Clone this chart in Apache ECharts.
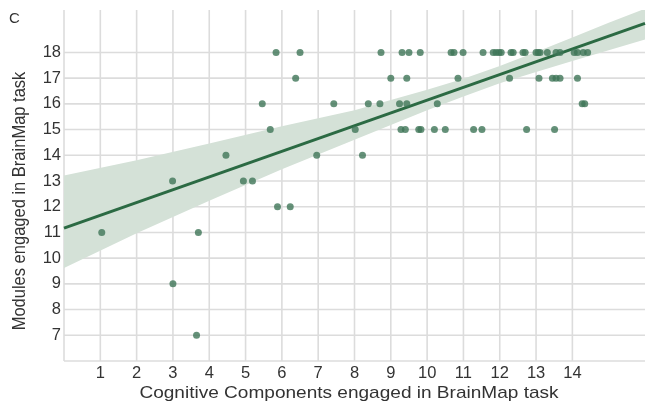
<!DOCTYPE html>
<html>
<head>
<meta charset="utf-8">
<script src="https://cdn.jsdelivr.net/npm/echarts@6/dist/echarts.min.js"></script>
<style>
html,body{margin:0;padding:0;background:#fff;}
#chart{width:650px;height:408px;}
</style>
</head>
<body>
<div id="chart"></div>
<script>
// ---- data ----
const xTicks = [0,1,2,3,4,5,6,7,8,9,10,11,12,13,14];
const xTickLabels = [1,2,3,4,5,6,7,8,9,10,11,12,13,14];
const yTicks = [6,7,8,9,10,11,12,13,14,15,16,17,18];
const yTickLabels = [7,8,9,10,11,12,13,14,15,16,17,18];

const row18 = [5.84,6.50,8.73,9.31,9.50,9.81,10.66,10.74,10.99,11.54,11.82,11.90,11.98,12.04,12.31,12.37,12.64,12.70,13.00,13.06,13.11,13.31,13.55,13.66,14.05,14.14,14.30,14.42];
const row17 = [6.38,9.00,9.44,10.85,12.27,13.08,13.45,13.55,13.66,14.14];
const row16 = [5.46,7.43,8.38,8.70,9.24,9.44,10.28,14.27,14.34];
const row15 = [5.68,8.02,9.28,9.40,9.77,9.83,10.20,10.50,11.28,11.51,12.74,13.51];
const row14 = [4.46,6.96,8.22];
const row13 = [2.99,4.94,5.19];
const row12 = [5.88,6.23];
const row11 = [1.04,3.70];
const row9  = [3.00];
const row7  = [3.65];

const fitX = [0, 16];
const fitY = [11.17, 19.13];

const bandX    = [0, 2, 4, 6, 8, 10, 11, 12, 13, 14, 15, 16];
const bandHigh = [13.21, 13.81, 14.46, 15.13, 15.75, 16.55, 16.98, 17.47, 18.02, 18.58, 19.15, 19.70];
const bandLow  = [9.62, 10.97, 12.23, 13.46, 14.60, 15.75, 16.29, 16.80, 17.24, 17.67, 18.08, 18.50];

// ---- build ----
const rows = [[18,row18],[17,row17],[16,row16],[15,row15],[14,row14],[13,row13],[12,row12],[11,row11],[9,row9],[7,row7]];
const points = [];
rows.forEach(([y, xs]) => xs.forEach(x => points.push([x, y])));

const X_MIN = 0, X_MAX = 16, Y_MIN = 6, Y_MAX = 19.65;
const gridColor = '#dcdcdc';
const textColor = '#333333';
const FONT = 'Liberation Sans, Arial, sans-serif';

function gridLineSeries(values, vertical) {
  return {
    type: 'custom', z: 1, silent: true,
    data: values.map(v => [v]),
    encode: vertical ? {x: 0} : {y: 0},
    renderItem: function(params, api) {
      const v = api.value(0);
      const p1 = vertical ? api.coord([v, Y_MIN]) : api.coord([X_MIN, v]);
      const p2 = vertical ? api.coord([v, Y_MAX]) : api.coord([X_MAX, v]);
      return {type: 'line', shape: {x1: p1[0], y1: p1[1], x2: p2[0], y2: p2[1]},
              style: {stroke: gridColor, lineWidth: 1.6}};
    }
  };
}

const chart = echarts.init(document.getElementById('chart'), null, {renderer:'canvas'});
chart.setOption({
  animation: false,
  backgroundColor: '#ffffff',
  grid: {left: 64, right: 5, top: 10, bottom: 47, containLabel: false},
  xAxis: {
    type: 'value', min: X_MIN, max: X_MAX, interval: 1,
    axisLine: {show: false}, axisTick: {show: false}, splitLine: {show: false},
    axisLabel: {
      color: textColor, fontSize: 16.5, fontFamily: FONT, margin: 4,
      formatter: v => xTickLabels.indexOf(v) >= 0 ? String(v) : ''
    }
  },
  yAxis: {
    type: 'value', min: Y_MIN, max: Y_MAX, interval: 1,
    axisLine: {show: false}, axisTick: {show: false}, splitLine: {show: false},
    axisLabel: {
      color: textColor, fontSize: 16.5, fontFamily: FONT, margin: 3,
      formatter: v => yTickLabels.indexOf(v) >= 0 ? String(v) : ''
    }
  },
  graphic: [
    {type:'text', left: 9, top: 11, style:{text:'C', fontSize: 15, fontFamily: FONT, fill: textColor}},
    {type:'text', x: 20, y: 201, rotation: Math.PI/2, scaleY: 1.1,
      style:{text:'Modules engaged in BrainMap task', fontSize: 16.5, fontFamily: FONT, fill: textColor, align:'center', verticalAlign:'middle'}},
    {type:'text', x: 349, y: 393, scaleX: 1.12,
      style:{text:'Cognitive Components engaged in BrainMap task', fontSize: 17, fontFamily: FONT, fill: textColor, align:'center', verticalAlign:'middle'}}
  ],
  series: [
    gridLineSeries(xTicks, true),
    gridLineSeries(yTicks, false),
    {
      type: 'custom', z: 2, silent: true,
      data: bandX.map((x,i) => [x, bandLow[i], bandHigh[i]]),
      encode: {x: 0, y: [1,2]},
      renderItem: function(params, api) {
        if (params.dataIndex !== 0) return null;
        const pts = [];
        for (let i = 0; i < bandX.length; i++) pts.push(api.coord([bandX[i], bandHigh[i]]));
        for (let i = bandX.length - 1; i >= 0; i--) pts.push(api.coord([bandX[i], bandLow[i]]));
        const cs = params.coordSys;
        return {
          type: 'polygon',
          shape: {points: pts},
          style: {fill: '#d4e1d7'},
          clipPath: {type:'rect', shape:{x: cs.x, y: cs.y, width: cs.width, height: cs.height}}
        };
      }
    },
    {
      type: 'line', z: 3, silent: true, symbol: 'none',
      data: fitX.map((x,i) => [x, fitY[i]]),
      lineStyle: {color: '#2b6a43', width: 3}
    },
    {
      type: 'scatter', z: 4, silent: true,
      data: points, symbolSize: 7,
      itemStyle: {color: '#3f7657'}
    }
  ]
});
</script>
</body>
</html>
